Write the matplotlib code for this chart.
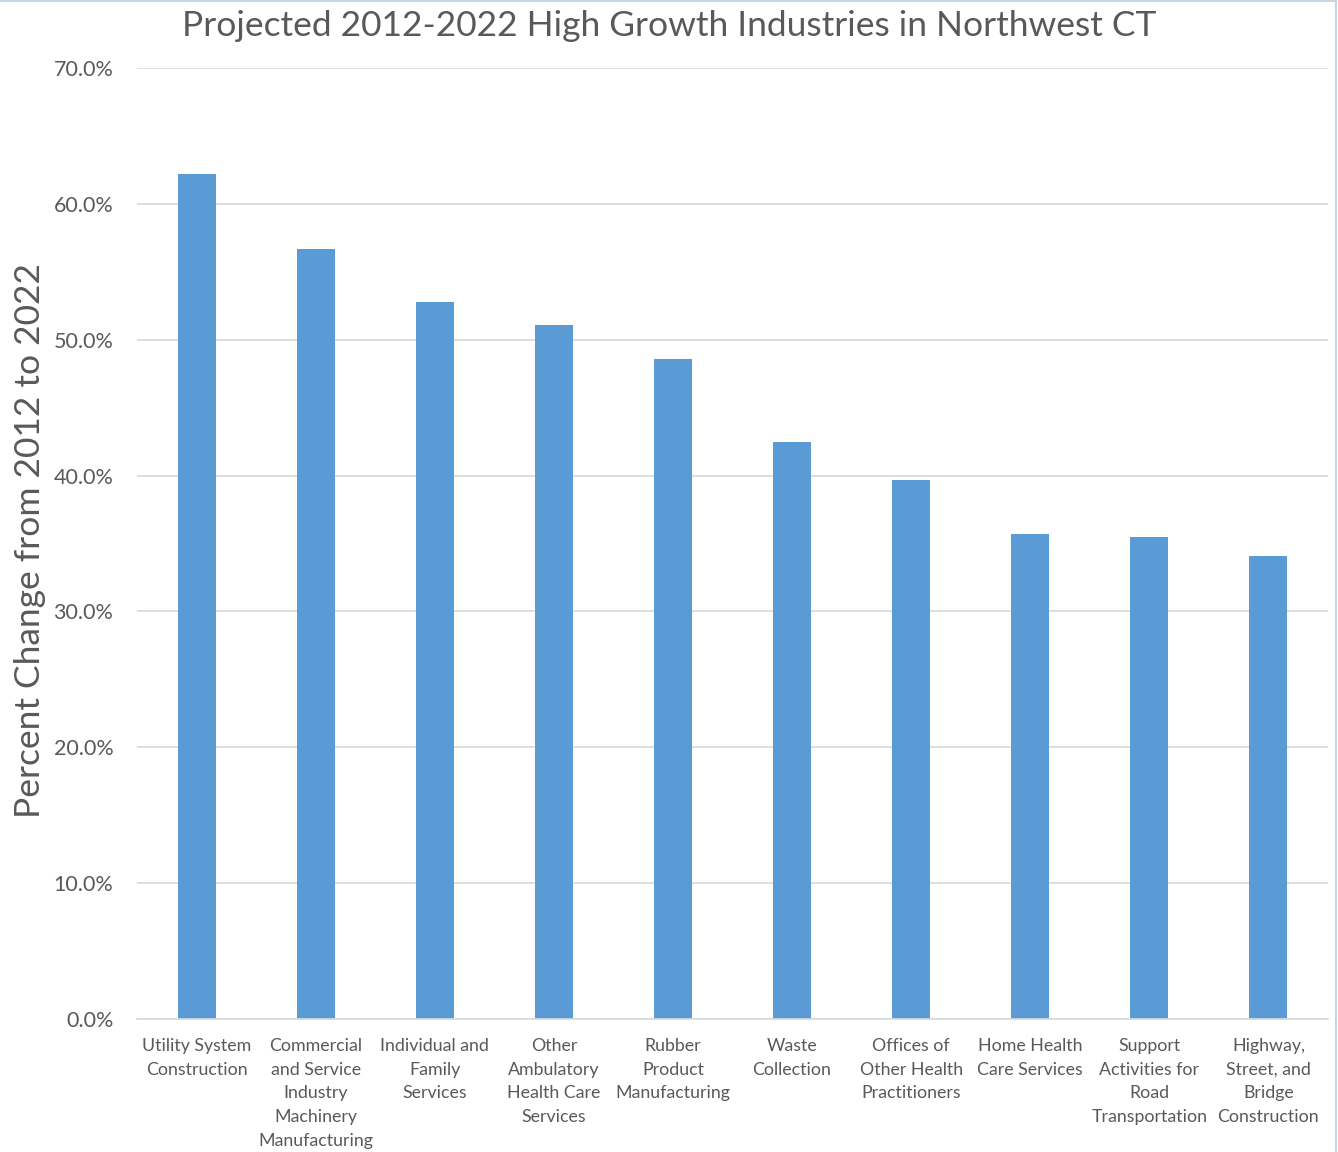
import matplotlib.pyplot as plt
from matplotlib.lines import Line2D
from matplotlib.ticker import FuncFormatter

plt.rcParams['font.family'] = ['Lato', 'DejaVu Sans']

industries = [
    "Utility System\nConstruction",
    "Commercial\nand Service\nIndustry\nMachinery\nManufacturing",
    "Individual and\nFamily\nServices",
    "Other\nAmbulatory\nHealth Care\nServices",
    "Rubber\nProduct\nManufacturing",
    "Waste\nCollection",
    "Offices of\nOther Health\nPractitioners",
    "Home Health\nCare Services",
    "Support\nActivities for\nRoad\nTransportation",
    "Highway,\nStreet, and\nBridge\nConstruction",
]
pct_change = [62.2, 56.7, 52.8, 51.1, 48.6, 42.5, 39.7, 35.7, 35.5, 34.1]

text_grey = '#595959'
bar_blue = '#5B9BD5'

fig = plt.figure(figsize=(13.38, 11.52), dpi=100)
ax = fig.add_axes([0.1024, 0.1155, 0.8901, 0.8255])

x = range(len(industries))
ax.bar(x, pct_change, width=0.32, color=bar_blue, zorder=2)

ax.set_xlim(-0.5, len(industries) - 0.5)
ax.set_ylim(0, 70)
ax.set_yticks(range(0, 71, 10))
ax.yaxis.set_major_formatter(FuncFormatter(lambda v, _: f"{v:.1f}%"))
ax.grid(axis='y', color='#D9D9D9', linewidth=1.2, zorder=0)

ax.set_xticks(list(x))
ax.set_xticklabels(industries, fontsize=12.8, color=text_grey, linespacing=1.58)
ax.tick_params(axis='x', length=0, pad=14)
ax.tick_params(axis='y', length=0, labelsize=15.5, labelcolor=text_grey, pad=17)

for side in ['top', 'right', 'left']:
    ax.spines[side].set_visible(False)
ax.spines['bottom'].set_color('#D9D9D9')
ax.spines['bottom'].set_linewidth(1.2)

ax.set_ylabel("Percent Change from 2012 to 2022", fontsize=25.5, color=text_grey)
ax.yaxis.set_label_coords(-0.076, 0.5026)
fig.text(0.5, 0.977, "Projected 2012-2022 High Growth Industries in Northwest CT",
         ha='center', va='center', fontsize=25.5, color=text_grey)

# thin frame along the top and right edge
fig.add_artist(Line2D([0, 0.9985], [0.999, 0.999], transform=fig.transFigure,
                      color='#C5D5E4', linewidth=1.5))
fig.add_artist(Line2D([0.9985, 0.9985], [0, 0.999], transform=fig.transFigure,
                      color='#C5D5E4', linewidth=1.5))

fig.savefig('out.png', dpi=100, facecolor='white')
